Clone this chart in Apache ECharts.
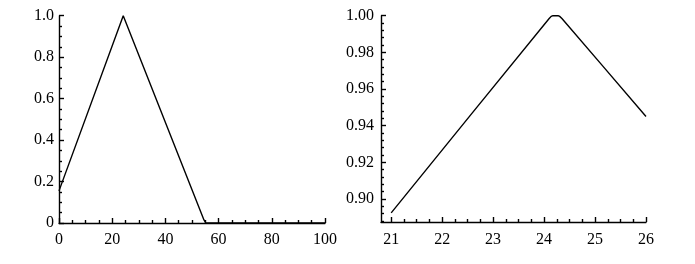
<!DOCTYPE html>
<html>
<head>
<meta charset="utf-8">
<script src="https://cdn.jsdelivr.net/npm/echarts@6/dist/echarts.min.js"></script>
<style>
html,body{margin:0;padding:0;background:#fff;}
#c{width:695px;height:264px;}
</style>
</head>
<body>
<div id="c"></div>
<script>
// ---- data ----
const leftX = [0, 24.15, 24.25, 54.5, 55.2, 100];
const leftY = [0.155, 1.0, 1.0, 0.015, 0, 0];
const rightX = [21, 24.1, 24.17, 24.28, 24.35, 26];
const rightY = [0.8925, 0.9985, 1.0, 1.0, 0.9985, 0.945];

const leftXTicks = [0, 20, 40, 60, 80, 100];
const leftYTicks = [0, 0.2, 0.4, 0.6, 0.8, 1.0];
const leftYLabels = ['0', '0.2', '0.4', '0.6', '0.8', '1.0'];
const rightXTicks = [21, 22, 23, 24, 25, 26];
const rightYTicks = [0.90, 0.92, 0.94, 0.96, 0.98, 1.00];
const rightYLabels = ['0.90', '0.92', '0.94', '0.96', '0.98', '1.00'];

// ---- ranges ----
const rightXMin = 20.8, rightXMax = 26;
const rightYMin = 0.8875, rightYMax = 1.0;

function minors(ticks, n, lo, hi) {
  const out = [];
  const step = (ticks[1] - ticks[0]) / n;
  for (let v = ticks[0] - step; v > lo + 1e-9; v -= step) out.push(+v.toFixed(6));
  for (let i = 0; i < ticks.length - 1; i++) {
    for (let k = 1; k < n; k++) out.push(+(ticks[i] + step * k).toFixed(6));
  }
  for (let v = ticks[ticks.length - 1] + step; v < hi - 1e-9; v += step) out.push(+v.toFixed(6));
  return out;
}
const rightXMinor = minors(rightXTicks, 4, 20.95, rightXMax);
const rightYMinor = minors(rightYTicks, 5, rightYMin, rightYMax);

const font = "'Liberation Serif', 'DejaVu Serif', serif";
const black = '#000';
const lineW = 1.4;
const fs = 16;

function majorAxis(extra) {
  return Object.assign({
    axisLine: { show: true, onZero: false, lineStyle: { color: black, width: lineW } },
    axisTick: { show: true, inside: true, length: 5, lineStyle: { color: black, width: lineW } },
    minorTick: { show: false },
    splitLine: { show: false },
    axisLabel: { color: black, fontFamily: font, fontSize: fs }
  }, extra);
}

const chart = echarts.init(document.getElementById('c'), null, { renderer: 'canvas' });
chart.setOption({
  backgroundColor: '#fff',
  animation: false,
  grid: [
    { left: 59, top: 15.7, width: 266, height: 207.3, containLabel: false },
    { left: 381, top: 15.7, width: 265, height: 206.3, containLabel: false }
  ],
  xAxis: [
    majorAxis({
      type: 'value', gridIndex: 0, min: 0, max: 100, interval: 20, position: 'bottom',
      minorTick: { show: true, splitNumber: 4, length: 3, lineStyle: { color: black, width: lineW } },
      axisLabel: { color: black, fontFamily: font, fontSize: fs, margin: 9,
        customValues: leftXTicks, formatter: v => String(v) },
      axisTick: { show: true, inside: true, length: 5, customValues: leftXTicks, lineStyle: { color: black, width: lineW } }
    }),
    majorAxis({
      type: 'value', gridIndex: 1, min: rightXMin, max: rightXMax, position: 'bottom',
      axisLabel: { color: black, fontFamily: font, fontSize: fs, margin: 10,
        customValues: rightXTicks, formatter: v => String(Math.round(v)) },
      axisTick: { show: true, inside: true, length: 5, customValues: rightXTicks, lineStyle: { color: black, width: lineW } }
    }),
    {
      type: 'value', gridIndex: 1, min: rightXMin, max: rightXMax, position: 'bottom', offset: 0,
      axisLine: { show: false }, splitLine: { show: false }, axisLabel: { show: false },
      axisTick: { show: true, inside: true, length: 3, customValues: rightXMinor, lineStyle: { color: black, width: lineW } }
    }
  ],
  yAxis: [
    majorAxis({
      type: 'value', gridIndex: 0, min: 0, max: 1, interval: 0.2, position: 'left',
      minorTick: { show: true, splitNumber: 4, length: 3, lineStyle: { color: black, width: lineW } },
      axisLabel: { color: black, fontFamily: font, fontSize: fs, margin: 5,
        customValues: leftYTicks,
        formatter: v => { const i = leftYTicks.findIndex(t => Math.abs(t - v) < 1e-6); return i >= 0 ? leftYLabels[i] : ''; } },
      axisTick: { show: true, inside: true, length: 5, customValues: leftYTicks, lineStyle: { color: black, width: lineW } }
    }),
    majorAxis({
      type: 'value', gridIndex: 1, min: rightYMin, max: rightYMax, position: 'left',
      axisLabel: { color: black, fontFamily: font, fontSize: fs, margin: 7,
        customValues: rightYTicks,
        formatter: v => { const i = rightYTicks.findIndex(t => Math.abs(t - v) < 1e-6); return i >= 0 ? rightYLabels[i] : ''; } },
      axisTick: { show: true, inside: true, length: 5, customValues: rightYTicks, lineStyle: { color: black, width: lineW } }
    }),
    {
      type: 'value', gridIndex: 1, min: rightYMin, max: rightYMax, position: 'left', offset: 0,
      axisLine: { show: false }, splitLine: { show: false }, axisLabel: { show: false },
      axisTick: { show: true, inside: true, length: 3, customValues: rightYMinor, lineStyle: { color: black, width: lineW } }
    }
  ],
  series: [
    {
      type: 'line', xAxisIndex: 0, yAxisIndex: 0, clip: false,
      data: leftX.map((x, i) => [x, leftY[i]]),
      showSymbol: false, symbol: 'none',
      lineStyle: { color: black, width: lineW }
    },
    {
      type: 'line', xAxisIndex: 1, yAxisIndex: 1, clip: false,
      data: rightX.map((x, i) => [x, rightY[i]]),
      showSymbol: false, symbol: 'none', smooth: 0.15,
      lineStyle: { color: black, width: lineW }
    }
  ]
});
</script>
</body>
</html>
